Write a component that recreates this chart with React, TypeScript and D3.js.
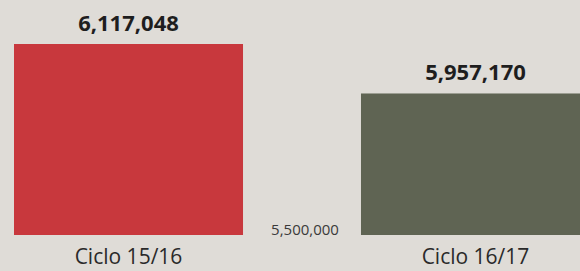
import React, { useEffect, useRef } from 'react';
import * as d3 from 'd3';

const categories = ['Ciclo 15/16', 'Ciclo 16/17'];
const values = [6117048, 5957170];
const baseValue = 5500000;
const colors = ['#c8383d', '#5f6453'];

const W = 580;
const H = 271;

function App() {
  const svgRef = useRef<SVGSVGElement>(null);

  useEffect(() => {
    const svg = d3.select(svgRef.current);
    svg.selectAll('*').remove();

    // paper-ish background
    svg.append('rect').attr('width', W).attr('height', H).attr('fill', '#dfdcd7');

    const x = d3.scaleBand<string>()
      .domain(categories)
      .range([14, 590])
      .paddingInner(0.34)
      .paddingOuter(0);

    const y = d3.scaleLinear()
      .domain([baseValue, d3.max(values) as number])
      .range([235, 44]);

    const fmt = d3.format(',');

    const g = svg.selectAll('.bar')
      .data(categories)
      .enter()
      .append('g')
      .attr('class', 'bar');

    g.append('rect')
      .attr('x', (d) => x(d) as number)
      .attr('y', (d, i) => y(values[i]))
      .attr('width', x.bandwidth())
      .attr('height', (d, i) => y(baseValue) - y(values[i]))
      .attr('fill', (d, i) => colors[i]);

    // value labels above bars
    g.append('text')
      .attr('x', (d) => (x(d) as number) + x.bandwidth() / 2)
      .attr('y', (d, i) => y(values[i]) - 13)
      .attr('text-anchor', 'middle')
      .attr('font-family', '"Open Sans", sans-serif')
      .attr('font-weight', 700)
      .attr('font-size', 22)
      .attr('fill', '#1e1e1e')
      .text((d, i) => fmt(values[i]));

    // category labels
    g.append('text')
      .attr('x', (d) => (x(d) as number) + x.bandwidth() / 2)
      .attr('y', 264)
      .attr('text-anchor', 'middle')
      .attr('font-family', '"Open Sans", sans-serif')
      .attr('font-size', 21)
      .attr('fill', '#2a2a2a')
      .text((d) => d);

    // base value marker between the bars
    const gap = ((x(categories[0]) as number) + x.bandwidth() + (x(categories[1]) as number)) / 2;
    svg.append('text')
      .attr('x', gap + 3)
      .attr('y', y(baseValue))
      .attr('text-anchor', 'middle')
      .attr('font-family', '"Open Sans", sans-serif')
      .attr('font-size', 15)
      .attr('fill', '#3a3a3a')
      .text(fmt(baseValue));
  }, []);

  return (
    <div style={{ position: 'fixed', left: 0, top: 0 }}>
      <svg ref={svgRef} width={W} height={H} style={{ display: 'block' }} />
    </div>
  );
}

export default App;
